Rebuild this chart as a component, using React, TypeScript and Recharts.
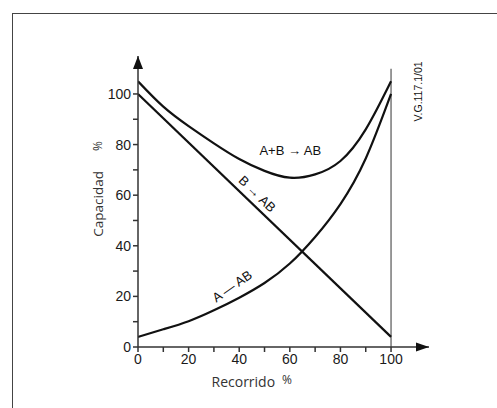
import { LineChart, Line, XAxis, YAxis, ReferenceLine, ReferenceDot, Label } from "recharts";

// Recorrido % (x) readings every 10 %
const recorrido = [0, 10, 20, 30, 40, 50, 60, 70, 80, 90, 100];
// Capacidad %
const aPlusBToAB = [105, 95, 87.3, 80.5, 74.3, 69.6, 66.9, 68.2, 73.5, 86, 105];
const aToAB = [4, 7, 10.2, 14.5, 19.5, 25.3, 33, 43.5, 56.5, 74.5, 100];
const bToABx = [0, 100];
const bToABy = [100, 4];

const xTicks = [0, 10, 20, 30, 40, 50, 60, 70, 80, 90, 100];
const yTicks = [0, 10, 20, 30, 40, 50, 60, 70, 80, 90, 100];

const curves = recorrido.map((x, i) => ({ x, ab: aPlusBToAB[i], a: aToAB[i] }));
const bLine = bToABx.map((x, i) => ({ x, b: bToABy[i] }));

const INK = "#111";
const AXIS = "#333";
const tickFont = { fontFamily: "Liberation Sans, Arial, sans-serif", fontSize: 14, fill: "#1a1a1a" };
const labelFont = "Open Sans, Noto Sans, sans-serif";

const everyOther = (v: number) => (v % 20 === 0 ? String(v) : "");

function TextMark({ cx, cy, text, angle, size = 13 }: any) {
  return (
    <text
      x={cx}
      y={cy}
      transform={`rotate(${angle} ${cx} ${cy})`}
      textAnchor="middle"
      dominantBaseline="central"
      fontFamily="Liberation Sans, Arial, sans-serif"
      fontSize={size}
      fill={INK}
    >
      {text}
    </text>
  );
}

const XArrow = ({ cx, cy }: any) => (
  <path d={`M${cx},${cy} L${cx - 13},${cy - 4.5} L${cx - 13},${cy + 4.5} Z`} fill={INK} />
);
const YArrow = ({ cx, cy }: any) => (
  <path d={`M${cx},${cy} L${cx - 5},${cy + 13} L${cx + 5},${cy + 13} Z`} fill={INK} />
);

function YTitle({ viewBox }: any) {
  const x = viewBox.x + 25.5;
  const y = 236.7;
  return (
    <text x={x} y={y} transform={`rotate(-90 ${x} ${y})`} fontFamily={labelFont} fontSize={13.5} fill="#333">
      Capacidad
      <tspan dx={20} dy={-1} fontSize={12}>%</tspan>
    </text>
  );
}

function XTitle({ viewBox }: any) {
  return (
    <text x={viewBox.x + 73.5} y={viewBox.y + 40} fontFamily={labelFont} fontSize={14} fill="#333">
      Recorrido
      <tspan dx={7} dy={-3} fontSize={12}>%</tspan>
    </text>
  );
}

export default function App() {
  return (
    <div style={{ position: "absolute", left: 0, top: 0, width: 497, height: 408, background: "#fff", overflow: "hidden" }}>
      <div
        style={{
          position: "absolute",
          left: 12,
          top: 13,
          width: 497,
          height: 408,
          borderLeft: "1.5px solid #444",
          borderTop: "1.5px solid #444",
        }}
      />
      <div style={{ position: "absolute", left: 0, top: 0 }}>
        <LineChart width={497} height={408} margin={{ top: 56, right: 68, bottom: 31, left: 78 }}>
          <XAxis
            dataKey="x"
            type="number"
            domain={[0, 115]}
            allowDataOverflow
            ticks={xTicks}
            tickFormatter={everyOther}
            tickSize={5}
            height={30}
            stroke={AXIS}
            strokeWidth={1.5}
            tick={tickFont}
            interval={0}
          >
            <Label content={<XTitle />} />
          </XAxis>
          <YAxis
            type="number"
            domain={[0, 115]}
            allowDataOverflow
            ticks={yTicks}
            tickFormatter={everyOther}
            tickSize={5}
            width={60}
            stroke={AXIS}
            strokeWidth={1.5}
            tick={tickFont}
            interval={0}
          >
            <Label content={<YTitle />} />
          </YAxis>
          <ReferenceLine
            segment={[{ x: 100, y: 0 }, { x: 100, y: 110 }]}
            stroke="#777"
            strokeWidth={1.5}
            ifOverflow="visible"
          />
          <Line data={curves} dataKey="ab" type="natural" stroke={INK} strokeWidth={2.2} dot={false} isAnimationActive={false} />
          <Line data={curves} dataKey="a" type="natural" stroke={INK} strokeWidth={2.2} dot={false} isAnimationActive={false} />
          <Line data={bLine} dataKey="b" type="linear" stroke={INK} strokeWidth={2.2} dot={false} isAnimationActive={false} />
          <ReferenceDot x={115} y={0} ifOverflow="visible" shape={<XArrow />} />
          <ReferenceDot x={0} y={115} ifOverflow="visible" shape={<YArrow />} />
          <ReferenceDot x={60.2} y={77.5} ifOverflow="visible" shape={<TextMark text="A+B → AB" angle={0} />} />
          <ReferenceDot x={47.1} y={60.5} ifOverflow="visible" shape={<TextMark text="B → AB" angle={44} />} />
          <ReferenceDot x={37.2} y={24} ifOverflow="visible" shape={<TextMark text="A — AB" angle={-35} />} />
          <ReferenceDot x={110.7} y={101} ifOverflow="visible" shape={<TextMark text="V.G.117.1/01" angle={-90} size={10.5} />} />
        </LineChart>
      </div>
    </div>
  );
}
